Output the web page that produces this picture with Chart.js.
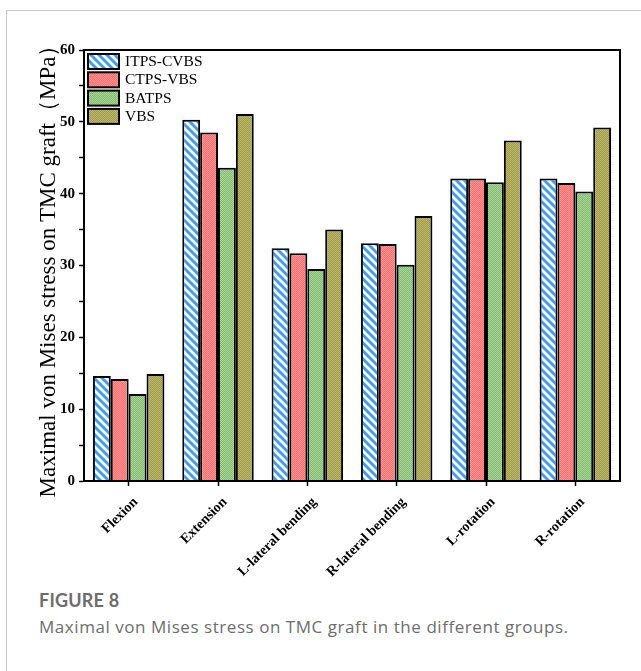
<!DOCTYPE html>
<html>
<head>
<meta charset="utf-8">
<script src="https://cdn.jsdelivr.net/npm/chart.js@4.4.1/dist/chart.umd.min.js"></script>
<style>
  html, body { margin: 0; padding: 0; background: #fff; }
  body { width: 641px; height: 671px; position: relative; overflow: hidden; }
  #frame { position: absolute; left: 6px; top: 10px; right: -2px; bottom: -2px;
           border-top: 1px solid #c9c9c9; border-left: 1px solid #c9c9c9; }
  #wrap { position: absolute; left: 0; top: 0; width: 641px; height: 585px; }
  #fig { position: absolute; left: 39px; top: 589px; font-family: Lato, "Open Sans", sans-serif;
         font-weight: 700; font-size: 18px; color: #6d6d6d; letter-spacing: 0.2px; }
  #cap { position: absolute; left: 39px; top: 615px; font-family: "Open Sans", Lato, sans-serif;
         font-size: 17px; letter-spacing: 0.55px; color: #6d6d6d; white-space: nowrap; }
</style>
</head>
<body>
<div id="frame"></div>
<div id="wrap"><canvas id="chart" width="641" height="585"></canvas></div>
<div id="fig">FIGURE 8</div>
<div id="cap">Maximal von Mises stress on TMC graft in the different groups.</div>
<script>
// Loading conditions on the x axis
const categories = ['Flexion', 'Extension', 'L-lateral bending', 'R-lateral bending', 'L-rotation', 'R-rotation'];

// Maximal von Mises stress (MPa) per group
const itpsCvbs = [14.6, 50.3, 32.4, 33.1, 42.1, 42.1];
const ctpsVbs  = [14.2, 48.5, 31.7, 33.0, 42.1, 41.5];
const batps    = [12.1, 43.6, 29.5, 30.1, 41.6, 40.3];
const vbs      = [14.9, 51.1, 35.0, 36.9, 47.4, 49.2];

const seriesNames = ['ITPS-CVBS', 'CTPS-VBS', 'BATPS', 'VBS'];

// Labelled y ticks (minor ticks every 5 stay unlabelled)
const yTickLabels = [0, 10, 20, 30, 40, 50, 60];

// Diagonal blue/white hatch
function stripePattern(color) {
  const s = 8;
  const c = document.createElement('canvas');
  c.width = s; c.height = s;
  const g = c.getContext('2d');
  g.fillStyle = color;
  g.fillRect(0, 0, s, s);
  g.strokeStyle = '#ffffff';
  g.lineWidth = 2.8;
  g.beginPath();
  for (let k = -1; k <= 1; k++) {
    g.moveTo(k * s - 1, -1);
    g.lineTo(k * s + s + 1, s + 1);
  }
  g.stroke();
  return g.createPattern(c, 'repeat');
}

// Fine dotted texture of two shades
function ditherPattern(a, b) {
  const c = document.createElement('canvas');
  c.width = 2; c.height = 2;
  const g = c.getContext('2d');
  g.fillStyle = a; g.fillRect(0, 0, 2, 2);
  g.fillStyle = b; g.fillRect(0, 0, 1, 1); g.fillRect(1, 1, 1, 1);
  return g.createPattern(c, 'repeat');
}

const fills = [
  stripePattern('#3f9df5'),
  ditherPattern('#ff6f6f', '#ff9494'),
  ditherPattern('#7fbd6c', '#acd49c'),
  ditherPattern('#a09c48', '#bbb76e')
];

const seriesValues = [itpsCvbs, ctpsVbs, batps, vbs];

// Closed black frame around the plot area
const frameBox = {
  id: 'frameBox',
  afterDatasetsDraw(chart) {
    const { ctx, chartArea: a } = chart;
    ctx.save();
    ctx.strokeStyle = '#000';
    ctx.lineWidth = 2;
    ctx.strokeRect(a.left, a.top, a.right - a.left, a.bottom - a.top);
    ctx.restore();
  }
};

// Legend drawn inside the top-left corner of the plot area
const insideLegend = {
  id: 'insideLegend',
  afterDraw(chart) {
    const { ctx, chartArea: a } = chart;
    ctx.save();
    chart.data.datasets.forEach((ds, i) => {
      const x = a.left + 4;
      const y = a.top + 4 + i * 18.3;
      ctx.fillStyle = ds.backgroundColor;
      ctx.fillRect(x, y, 31, 15);
      ctx.strokeStyle = '#000';
      ctx.lineWidth = 2;
      ctx.strokeRect(x, y, 31, 15);
      ctx.fillStyle = '#000';
      ctx.font = '15.5px "Liberation Serif", serif';
      ctx.textBaseline = 'middle';
      ctx.textAlign = 'left';
      ctx.fillText(ds.label, x + 37, y + 8);
    });
    ctx.restore();
  }
};

new Chart(document.getElementById('chart'), {
  type: 'bar',
  data: {
    labels: categories,
    datasets: seriesNames.map((name, i) => ({
      label: name,
      data: seriesValues[i],
      backgroundColor: fills[i],
      borderColor: '#000',
      borderWidth: 2,
      borderSkipped: 'bottom',
      categoryPercentage: 0.8,
      barPercentage: 1.0
    }))
  },
  options: {
    responsive: false,
    animation: false,
    layout: { padding: { top: 50, right: 21, left: 0, bottom: 0 } },
    plugins: {
      legend: { display: false },
      tooltip: { enabled: false }
    },
    scales: {
      x: {
        offset: true,
        grid: { display: true, drawOnChartArea: false, offset: false, color: '#000',
                tickLength: 5, tickWidth: 1.5 },
        border: { display: true, color: '#000', width: 2 },
        ticks: {
          autoSkip: false, minRotation: 45, maxRotation: 45, padding: 8, labelOffset: 7,
          color: '#000',
          font: { family: '"Liberation Serif", serif', weight: 'bold', size: 14 }
        },
        afterFit(scale) { scale.height = 104; }
      },
      y: {
        min: 0,
        max: 60,
        grid: { display: true, drawOnChartArea: false, color: '#000', tickLength: 5, tickWidth: 1.5 },
        border: { display: true, color: '#000', width: 2 },
        ticks: {
          stepSize: 5, autoSkip: false, padding: 4, color: '#000',
          font: { family: '"Liberation Serif", serif', weight: 'bold', size: 15 },
          callback: (v) => (yTickLabels.includes(v) ? String(v) : '')
        },
        title: {
          display: true,
          text: 'Maximal von Mises stress on TMC graft（MPa）',
          color: '#000',
          font: { family: '"Liberation Serif", serif', size: 23 },
          padding: { top: 35, bottom: 0 }
        },
        afterFit(scale) { scale.width = 84; }
      }
    }
  },
  plugins: [frameBox, insideLegend]
});
</script>
</body>
</html>
